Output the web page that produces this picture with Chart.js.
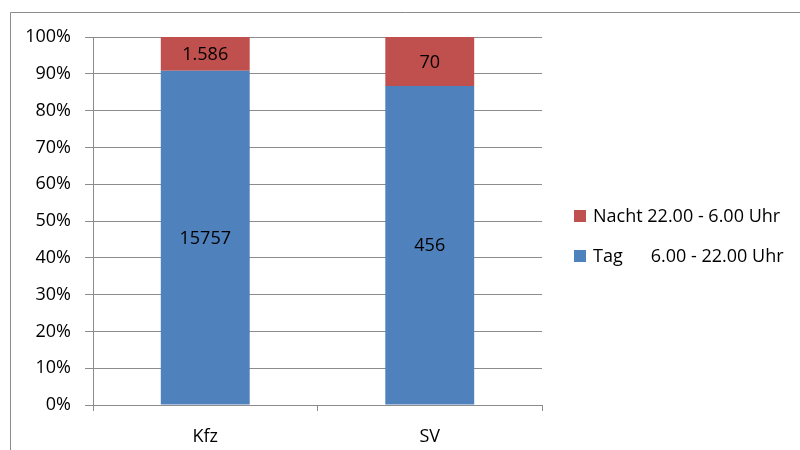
<!DOCTYPE html>
<html>
<head>
<meta charset="utf-8">
<script src="https://cdn.jsdelivr.net/npm/chart.js@4"></script>
<style>
  html, body { margin: 0; padding: 0; background: #fff; }
  #wrap { width: 800px; height: 450px; }
</style>
</head>
<body>
<div id="wrap"><canvas id="c" width="800" height="450"></canvas></div>
<script>
// Verkehrsmengen je Fahrzeugart, aufgeteilt nach Tag und Nacht
const categories = ['Kfz', 'SV'];
const tagValues = [15757, 456];
const nachtValues = [1586, 70];
const tagLabel = 'Tag      6.00 - 22.00 Uhr';
const nachtLabel = 'Nacht 22.00 - 6.00 Uhr';
const yTicks = [0, 10, 20, 30, 40, 50, 60, 70, 80, 90, 100];

const FONT = '"Open Sans", "Liberation Sans", sans-serif';
const totals = categories.map((_, i) => tagValues[i] + nachtValues[i]);
const toShare = arr => arr.map((v, i) => v / totals[i] * 100);

// Beschriftung der Segmente mit den absoluten Werten
const valueLabels = {
  id: 'valueLabels',
  afterDatasetsDraw(chart) {
    const ctx = chart.ctx;
    ctx.save();
    ctx.font = '18px ' + FONT;
    ctx.fillStyle = '#000';
    ctx.textAlign = 'center';
    ctx.textBaseline = 'middle';
    chart.data.datasets.forEach((ds, di) => {
      const meta = chart.getDatasetMeta(di);
      meta.data.forEach((bar, i) => {
        const p = bar.getProps(['x', 'y', 'base'], true);
        const txt = ds.rawValues[i].toLocaleString('de-DE', { useGrouping: ds.grouping });
        ctx.fillText(txt, p.x, (p.y + p.base) / 2 + 1);
      });
    });
    ctx.restore();
  }
};

// Rahmen und Legende rechts neben dem Diagramm
const frameAndLegend = {
  id: 'frameAndLegend',
  afterDraw(chart) {
    const ctx = chart.ctx;
    ctx.save();
    ctx.strokeStyle = '#8c8c8c';
    ctx.lineWidth = 1;
    ctx.beginPath();
    ctx.moveTo(10.5, 450);
    ctx.lineTo(10.5, 12.5);
    ctx.lineTo(800, 12.5);
    ctx.stroke();

    const items = [chart.data.datasets[1], chart.data.datasets[0]];
    const rowsY = [216, 256];
    ctx.font = '18px ' + FONT;
    ctx.textBaseline = 'middle';
    ctx.textAlign = 'left';
    items.forEach((ds, k) => {
      ctx.fillStyle = ds.backgroundColor;
      ctx.fillRect(574, rowsY[k] - 6, 12, 12);
      ctx.fillStyle = '#000';
      ctx.fillText(ds.label, 593, rowsY[k] + 1);
    });
    ctx.restore();
  }
};

new Chart(document.getElementById('c'), {
  type: 'bar',
  data: {
    labels: categories,
    datasets: [
      {
        label: tagLabel,
        data: toShare(tagValues),
        rawValues: tagValues,
        grouping: false,
        backgroundColor: '#4F81BD',
        borderWidth: 0,
        categoryPercentage: 1,
        barPercentage: 0.396
      },
      {
        label: nachtLabel,
        data: toShare(nachtValues),
        rawValues: nachtValues,
        grouping: true,
        backgroundColor: '#C0504D',
        borderWidth: 0,
        categoryPercentage: 1,
        barPercentage: 0.396
      }
    ]
  },
  options: {
    responsive: false,
    animation: false,
    layout: { padding: { top: 37, right: 258, bottom: 0, left: 0 } },
    plugins: {
      legend: { display: false },
      tooltip: { enabled: false }
    },
    scales: {
      x: {
        stacked: true,
        afterFit(scale) { scale.height = 45; },
        grid: {
          offset: true,
          drawOnChartArea: false,
          drawTicks: true,
          tickLength: 6,
          color: '#8c8c8c'
        },
        border: { color: '#8c8c8c' },
        ticks: { color: '#000', font: { family: FONT, size: 18 }, padding: 15 }
      },
      y: {
        stacked: true,
        min: 0,
        max: 100,
        afterFit(scale) { scale.width = 93; },
        afterBuildTicks(scale) { scale.ticks = yTicks.map(v => ({ value: v })); },
        grid: { color: '#8c8c8c', tickLength: 8 },
        border: { color: '#8c8c8c' },
        ticks: {
          color: '#000',
          font: { family: FONT, size: 18 },
          padding: 14,
          callback: v => v + '%'
        }
      }
    }
  },
  plugins: [valueLabels, frameAndLegend]
});
</script>
</body>
</html>
